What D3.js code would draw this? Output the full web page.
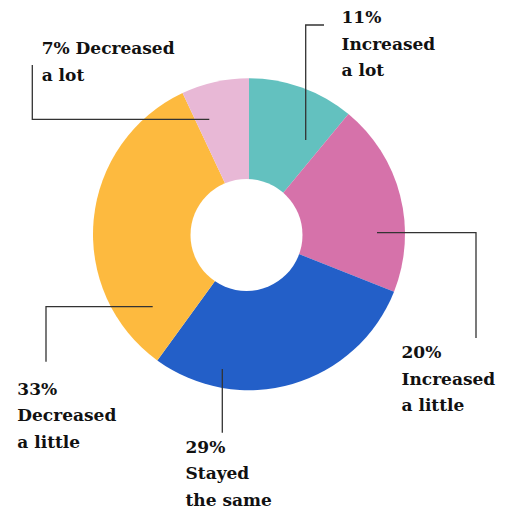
<!DOCTYPE html>
<html>
<head>
<meta charset="utf-8">
<script src="https://cdn.jsdelivr.net/npm/d3@7"></script>
<style>
  html, body { margin: 0; padding: 0; background: #fff; }
  svg { display: block; }
</style>
</head>
<body>
<svg id="chart" width="510" height="509"></svg>
<script>
// ---- data ----
const categories = ["Increased a lot", "Increased a little", "Stayed the same", "Decreased a little", "Decreased a lot"];
const values = [11, 20, 29, 33, 7];
const colors = ["#63c1bf", "#d672aa", "#235fc8", "#fdba3f", "#e8b8d6"];
const labelLines = [
  ["11%", "Increased", "a lot"],
  ["20%", "Increased", "a little"],
  ["29%", "Stayed", "the same"],
  ["33%", "Decreased", "a little"],
  ["7% Decreased", "a lot"]
];

// ---- layout ----
const cx = 249, cy = 234.2, outerR = 156;
const hole = { x: 246.5, y: 235, r: 56 };
const lineH = 26.3;
const fontSize = 17;

const annot = [
  { pts: [[324, 25], [305.7, 25], [305.7, 140]], tx: 341.5, ty: 23.3 },
  { pts: [[377, 232.7], [476, 232.7], [476, 338]], tx: 401.5, ty: 358.3 },
  { pts: [[222.3, 369], [222.3, 432.7]], tx: 185.5, ty: 453 },
  { pts: [[152.7, 306.7], [46, 306.7], [46, 361.7]], tx: 17.3, ty: 395 },
  { pts: [[32.3, 65], [32.3, 119.3], [209.3, 119.3]], tx: 41.7, ty: 54.3 }
];

const svg = d3.select("#chart");
const pie = d3.pie().sort(null).value(d => d);
const arc = d3.arc().innerRadius(0).outerRadius(outerR);
const arcs = pie(values);

const g = svg.append("g").attr("transform", `translate(${cx},${cy})`);
g.selectAll("path.slice")
  .data(arcs)
  .join("path")
  .attr("class", "slice")
  .attr("d", arc)
  .attr("fill", (d, i) => colors[i]);

svg.append("circle")
  .attr("cx", hole.x).attr("cy", hole.y).attr("r", hole.r)
  .attr("fill", "#fff");

const line = d3.line();
svg.selectAll("path.leader")
  .data(annot)
  .join("path")
  .attr("class", "leader")
  .attr("d", d => line(d.pts))
  .attr("fill", "none")
  .attr("stroke", "#333")
  .attr("stroke-width", 1.3);

const labels = svg.selectAll("text.label")
  .data(categories)
  .join("text")
  .attr("class", "label")
  .attr("font-family", "'DejaVu Serif', serif")
  .attr("font-weight", "bold")
  .attr("fill", "#111")
  .attr("font-size", fontSize)
  .attr("x", (d, i) => annot[i].tx)
  .attr("y", (d, i) => annot[i].ty);

labels.each(function(d, i) {
  d3.select(this).selectAll("tspan")
    .data(labelLines[i])
    .join("tspan")
    .attr("x", annot[i].tx)
    .attr("dy", (t, j) => j === 0 ? 0 : lineH)
    .text(t => t);
});
</script>
</body>
</html>
